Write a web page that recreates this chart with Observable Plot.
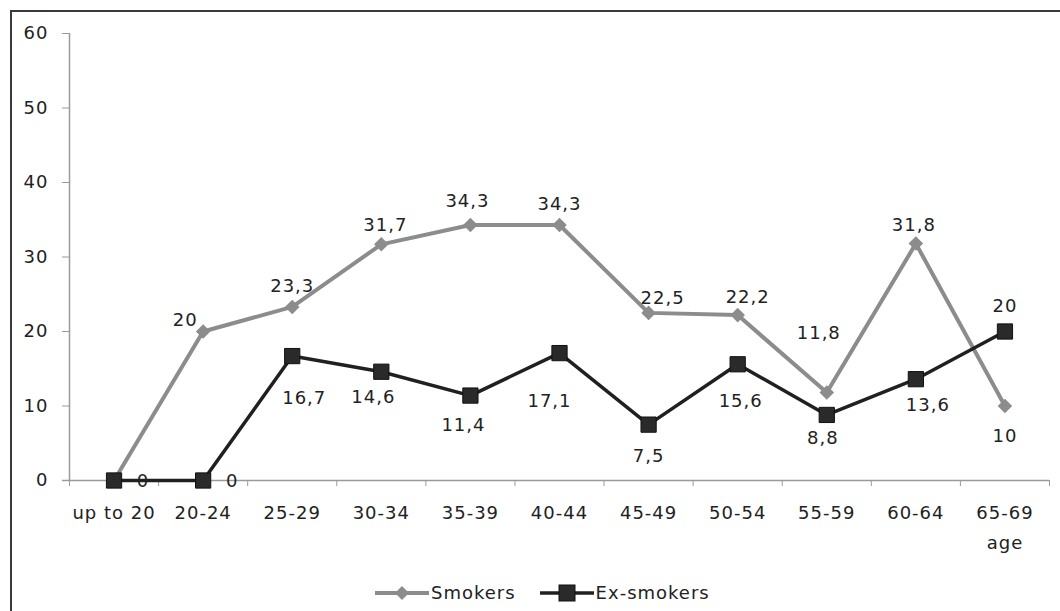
<!DOCTYPE html>
<html>
<head>
<meta charset="utf-8">
<script src="https://cdn.jsdelivr.net/npm/d3@7"></script>
<script src="https://cdn.jsdelivr.net/npm/@observablehq/plot@0.6"></script>
<style>
  html, body { margin: 0; padding: 0; background: #fff; overflow: hidden; }
  #wrap { position: relative; width: 1060px; height: 611px; overflow: hidden; }
  #frame { position: absolute; left: 10px; top: 10px; width: 1200px; height: 800px;
           border-left: 2px solid #3a3a3a; border-top: 2px solid #3a3a3a; pointer-events: none; }
  #chart { position: absolute; left: 0; top: 0; }
  #legend { position: absolute; top: 582px; left: 375px; display: flex; align-items: center;
            font-family: "DejaVu Sans", sans-serif; font-size: 18px; letter-spacing: 1px; color: #222; }
  #legend .item { display: flex; align-items: center; margin-right: 24px; }
  #legend svg { display: block; margin-right: 2px; }
</style>
</head>
<body>
<div id="wrap">
  <div id="chart"></div>
  <div id="legend"></div>
  <div id="frame"></div>
</div>
<script>
// Age groups along the x axis
const categories = ["up to 20", "20-24", "25-29", "30-34", "35-39", "40-44", "45-49", "50-54", "55-59", "60-64", "65-69"];
// Share (%) in each age group
const smokers   = [0, 20, 23.3, 31.7, 34.3, 34.3, 22.5, 22.2, 11.8, 31.8, 10];
const exSmokers = [0, 0, 16.7, 14.6, 11.4, 17.1, 7.5, 15.6, 8.8, 13.6, 20];
const yTicks = [0, 10, 20, 30, 40, 50, 60];
const seriesNames = ["Smokers", "Ex-smokers"];
const xTitle = "age";

// Where each value label sits relative to its marker (dx, dy in px)
const smokerLabelOffsets = [null, [-18, -11], [0, -21], [4, -19], [-3, -24], [0, -21], [14, -15], [10, -18], [-8, -59], [-2, -18], [0, 30]];
const exLabelOffsets = [[29, 1], [29, 1], [12, 42], [-8, 26], [-7, 30], [-10, 48], [0, 32], [3, 37], [-4, 23], [12, 26], [0, -25]];

const colors = { smokers: "#8c8c8c", ex: "#202020" };
const fmt = v => String(v).replace(".", ",");

const smokerRows = smokers.map((v, i) => ({ i, v }));
const exRows = exSmokers.map((v, i) => ({ i, v }));
const boundaries = d3.range(-0.5, categories.length, 1);

function valueLabels(rows, offsets) {
  return rows
    .filter((d, k) => offsets[k] !== null)
    .map(d => Plot.text([d], {
      x: "i", y: "v", text: r => fmt(r.v),
      dx: offsets[d.i][0], dy: offsets[d.i][1],
      fill: "#222", fontSize: 18
    }));
}

const chart = Plot.plot({
  width: 1060,
  height: 570,
  marginLeft: 69,
  marginRight: 11,
  marginTop: 33,
  marginBottom: 90,
  style: { fontFamily: "DejaVu Sans, sans-serif", fontSize: "18px", letterSpacing: "1px", color: "#222", background: "transparent" },
  x: { type: "linear", domain: [-0.5, categories.length - 0.5] },
  y: { domain: [0, 60] },
  marks: [
    Plot.ruleX([-0.5], { stroke: "#9a9a9a", strokeWidth: 1.5 }),
    Plot.ruleY([0], { stroke: "#9a9a9a", strokeWidth: 1.5, insetLeft: -7 }),
    Plot.axisY({ ticks: yTicks, tickSize: 7, tickPadding: 14, stroke: "#9a9a9a", label: null, fontSize: 18 }),
    Plot.axisX({ ticks: boundaries, tickSize: 6, tickFormat: () => "", stroke: "#9a9a9a", label: null }),
    Plot.axisX({ ticks: d3.range(categories.length), tickSize: 0, tickPadding: 26, tickFormat: i => categories[i], label: null, fontSize: 18 }),
    Plot.text([xTitle], { x: categories.length - 1, y: 0, dy: 63, fontSize: 18, fill: "#222" }),
    Plot.line(smokerRows, { x: "i", y: "v", stroke: colors.smokers, strokeWidth: 4 }),
    Plot.dot(smokerRows, { x: "i", y: "v", symbol: "square", rotate: 45, r: 5.8, fill: colors.smokers }),
    Plot.line(exRows, { x: "i", y: "v", stroke: colors.ex, strokeWidth: 3.5 }),
    Plot.dot(exRows, { x: "i", y: "v", symbol: "square", r: 8.6, fill: "#2a2a2a", stroke: "#111", strokeWidth: 1 }),
    ...valueLabels(smokerRows, smokerLabelOffsets),
    ...valueLabels(exRows, exLabelOffsets)
  ]
});
document.getElementById("chart").append(chart);

// Legend below the plot
const legend = d3.select("#legend");
const symbols = [
  { name: seriesNames[0], stroke: colors.smokers, width: 4, draw: g => g.append("path").attr("d", "M27,3 L34,10 L27,17 L20,10 Z").attr("fill", colors.smokers) },
  { name: seriesNames[1], stroke: colors.ex, width: 3.5, draw: g => g.append("rect").attr("x", 19).attr("y", 2).attr("width", 16).attr("height", 16).attr("fill", "#2a2a2a").attr("stroke", "#111") }
];
symbols.forEach(s => {
  const item = legend.append("div").attr("class", "item");
  const svg = item.append("svg").attr("width", 54).attr("height", 20);
  svg.append("line").attr("x1", 0).attr("x2", 54).attr("y1", 10).attr("y2", 10)
     .attr("stroke", s.stroke).attr("stroke-width", s.width);
  s.draw(svg);
  item.append("span").text(s.name);
});
</script>
</body>
</html>
